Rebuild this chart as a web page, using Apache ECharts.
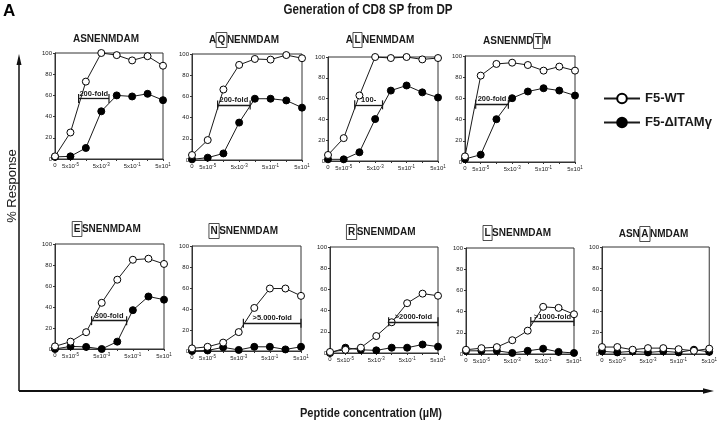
<!DOCTYPE html>
<html><head><meta charset="utf-8">
<script src="https://cdn.jsdelivr.net/npm/echarts@6/dist/echarts.min.js"></script>
<style>html,body{margin:0;padding:0;background:#fff}#c{width:720px;height:426px}</style>
</head><body><div id="c"></div>
<script>
// ---- data ----
const peptides = ['ASNENMDAM','AQNENMDAM','ALNENMDAM','ASNENMDTM','ESNENMDAM','NSNENMDAM','RSNENMDAM','LSNENMDAM','ASNANMDAM'];
const mutatedPos = [-1, 1, 1, 7, 0, 0, 0, 0, 3];
const doseIndex = [0, 1, 2, 3, 4, 5, 6, 7];
const xTickLabels = ['0', '5x10{s|-5}', '', '5x10{s|-3}', '', '5x10{s|-1}', '', '5x10{s|1}'];
const yTicks = [0, 20, 40, 60, 80, 100];
const seriesNames = ['F5-WT', 'F5-\u0394ITAM\u03b3'];

const wt_ASNENMDAM = [2.5, 25, 73, 100, 98, 93, 97, 88];
const wt_AQNENMDAM = [4.7, 18.8, 66.5, 89.7, 95.3, 94.7, 99, 96];
const wt_ALNENMDAM = [5.8, 22, 63, 100, 99, 100, 97.7, 99];
const wt_ASNENMDTM = [5.3, 81.5, 92.5, 93.7, 91.5, 86.2, 90, 86.2];
const wt_ESNENMDAM = [2.5, 7, 16, 44, 66, 85, 86, 81];
const wt_NSNENMDAM = [2.5, 4, 8, 18, 41, 59.5, 59.5, 52.5];
const wt_RSNENMDAM = [1, 3, 5, 16, 29, 47, 56, 54];
const wt_LSNENMDAM = [4, 5.5, 6.5, 13, 22, 44.5, 43.5, 37.5];
const wt_ASNANMDAM = [6.5, 6.5, 4, 5.5, 5.5, 4.5, 3, 5];

const itam_ASNENMDAM = [2, 2.5, 10.4, 45, 60, 59, 61.5, 55.5];
const itam_AQNENMDAM = [0.6, 2.2, 6.2, 35.3, 57.8, 57.8, 56.2, 49.4];
const itam_ALNENMDAM = [1.6, 1.6, 8.4, 40.3, 67.7, 72.6, 66, 61];
const itam_ASNENMDTM = [2.8, 6.9, 40.4, 60.2, 66.5, 69.6, 67.4, 62.7];
const itam_ESNENMDAM = [0, 2.5, 2, 0, 7, 37, 50, 47];
const itam_NSNENMDAM = [0, 0.5, 3.5, 1, 4, 4, 1.5, 4];
const itam_RSNENMDAM = [0, 5, 3, 2.5, 5, 5, 8, 6];
const itam_LSNENMDAM = [3, 3, 3, 1, 3, 5, 2, 1];
const itam_ASNANMDAM = [2.5, 1.5, 2.5, 1.5, 2.5, 1.5, 4, 2];

const foldFrom  = [1.53, 1.63, 1.7, 0.68, 2.35, 3.3, 3.8, 4.2, null];
const foldTo    = [3.5, 3.7, 3.47, 2.76, 4.6, 7, 7, 7, null];
const foldLevel = [57, 52, 54, 54.5, 27, 26.4, 29.4, 30.7, null];
const foldText  = ['200-fold', '200-fold', '100-', '200-fold', '300-fold', '>5.000-fold', '>2000-fold', '>1000-fold', null];

const wtAll = [wt_ASNENMDAM, wt_AQNENMDAM, wt_ALNENMDAM, wt_ASNENMDTM, wt_ESNENMDAM, wt_NSNENMDAM, wt_RSNENMDAM, wt_LSNENMDAM, wt_ASNANMDAM];
const itamAll = [itam_ASNENMDAM, itam_AQNENMDAM, itam_ALNENMDAM, itam_ASNENMDTM, itam_ESNENMDAM, itam_NSNENMDAM, itam_RSNENMDAM, itam_LSNENMDAM, itam_ASNANMDAM];

// ---- layout ----
const gridBox = [
  [55, 53, 108, 106], [192, 54, 110, 106], [328, 57, 110, 104], [465, 56, 110, 106],
  [55, 244, 109, 105], [192, 246, 109, 105], [330, 247, 108, 106], [466, 248, 108, 106], [602, 247, 109, 107]
];
const titleY = [39, 40, 40, 41, 229, 231, 232, 233, 234];
const FONT = '"Liberation Sans", Arial, Helvetica, sans-serif';
const INK = '#1a1a1a';

const chart = echarts.init(document.getElementById('c'), null, {renderer: 'canvas'});
const grids = [], xAxes = [], yAxes = [], series = [], graphics = [];

function titleText(p, pos) {
  if (pos < 0) return p;
  return p.slice(0, pos) + '{bx|' + p[pos] + '}' + p.slice(pos + 1);
}

gridBox.forEach((g, i) => {
  grids.push({left: g[0], top: g[1], width: g[2], height: g[3], show: true, borderColor: '#333', borderWidth: 1, backgroundColor: 'transparent'});
  xAxes.push({
    gridIndex: i, type: 'value', min: 0, max: 7, interval: 1,
    axisLine: {lineStyle: {color: '#333', width: 1}},
    axisTick: {show: true, length: 2, lineStyle: {color: '#333'}},
    splitLine: {show: false},
    axisLabel: {
      showMinLabel: true, showMaxLabel: true, margin: 3, color: INK, fontFamily: FONT, fontSize: 6,
      formatter: v => xTickLabels[Math.round(v)] || '',
      rich: {s: {fontSize: 4.5, fontFamily: FONT, color: INK, padding: [0, 0, 4, 0]}}
    }
  });
  yAxes.push({
    gridIndex: i, type: 'value', min: 0, max: 100, interval: 20,
    axisLine: {show: true, lineStyle: {color: '#333', width: 1}},
    axisTick: {show: true, length: 2, lineStyle: {color: '#333'}},
    splitLine: {show: false},
    axisLabel: {margin: 3, color: INK, fontFamily: FONT, fontSize: 6, formatter: v => yTicks.includes(v) ? String(v) : ''}
  });
  const ml = foldText[i] == null ? undefined : {
    silent: true, animation: false,
    symbol: ['rect', 'rect'], symbolSize: [9, 1.2],
    lineStyle: {color: INK, width: 1.3, type: 'solid'},
    label: {show: true, position: 'middle', formatter: foldText[i], color: INK, fontFamily: FONT, fontSize: 7.5, fontWeight: 'bold', distance: 1},
    data: [[{coord: [foldFrom[i], foldLevel[i]]}, {coord: [foldTo[i], foldLevel[i]]}]]
  };
  series.push({
    name: seriesNames[0], type: 'line', xAxisIndex: i, yAxisIndex: i, clip: false, z: 3,
    data: doseIndex.map((x, k) => [x, wtAll[i][k]]),
    symbol: 'circle', symbolSize: 7, showSymbol: true,
    lineStyle: {color: INK, width: 1},
    itemStyle: {color: '#fff', borderColor: '#000', borderWidth: 1},
    markLine: ml, animation: false
  });
  series.push({
    name: seriesNames[1], type: 'line', xAxisIndex: i, yAxisIndex: i, clip: false, z: 2,
    data: doseIndex.map((x, k) => [x, itamAll[i][k]]),
    symbol: 'circle', symbolSize: 7,
    lineStyle: {color: INK, width: 1},
    itemStyle: {color: '#000', borderColor: '#000', borderWidth: 1},
    animation: false
  });
  graphics.push({
    type: 'text', x: g[0] + g[2] / 2 - 3, y: titleY[i],
    style: {
      text: titleText(peptides[i], mutatedPos[i]), align: 'center', verticalAlign: 'middle',
      font: 'bold 10px ' + FONT, fill: INK,
      rich: {bx: {font: 'bold 10px ' + FONT, fill: INK, borderColor: '#222', borderWidth: 0.8, padding: [3, 1.5, 2, 1.5]}}
    }
  });
});

graphics.push(
  {type: 'text', x: 3, y: 3, style: {text: 'A', font: 'bold 17px ' + FONT, fill: '#000'}},
  {type: 'text', x: 368, y: 10, scaleX: 0.83, style: {text: 'Generation of CD8 SP from DP', align: 'center', verticalAlign: 'middle', font: 'bold 14px ' + FONT, fill: INK}},
  {type: 'text', x: 12, y: 186, rotation: Math.PI / 2, style: {text: '% Response', align: 'center', verticalAlign: 'middle', font: '13px ' + FONT, fill: INK}},
  {type: 'text', x: 371, y: 413, scaleX: 0.85, style: {text: 'Peptide concentration (\u00b5M)', align: 'center', verticalAlign: 'middle', font: 'bold 13px ' + FONT, fill: INK}},
  {type: 'line', shape: {x1: 19, y1: 391, x2: 19, y2: 62}, style: {stroke: '#111', lineWidth: 1.5}},
  {type: 'polygon', shape: {points: [[19, 54], [16.5, 65], [21.5, 65]]}, style: {fill: '#111'}},
  {type: 'line', shape: {x1: 19, y1: 391, x2: 704, y2: 391}, style: {stroke: '#111', lineWidth: 1.8}},
  {type: 'polygon', shape: {points: [[714, 391], [703, 388.3], [703, 393.7]]}, style: {fill: '#111'}}
);

chart.setOption({
  animation: false,
  backgroundColor: '#fff',
  grid: grids, xAxis: xAxes, yAxis: yAxes, series: series,
  legend: {
    data: seriesNames, orient: 'vertical', left: 598, top: 87, itemWidth: 36, itemHeight: 12, itemGap: 11,
    textStyle: {fontFamily: FONT, fontSize: 13, fontWeight: 'bold', color: INK}, selectedMode: false
  },
  graphic: graphics
});
</script></body></html>
